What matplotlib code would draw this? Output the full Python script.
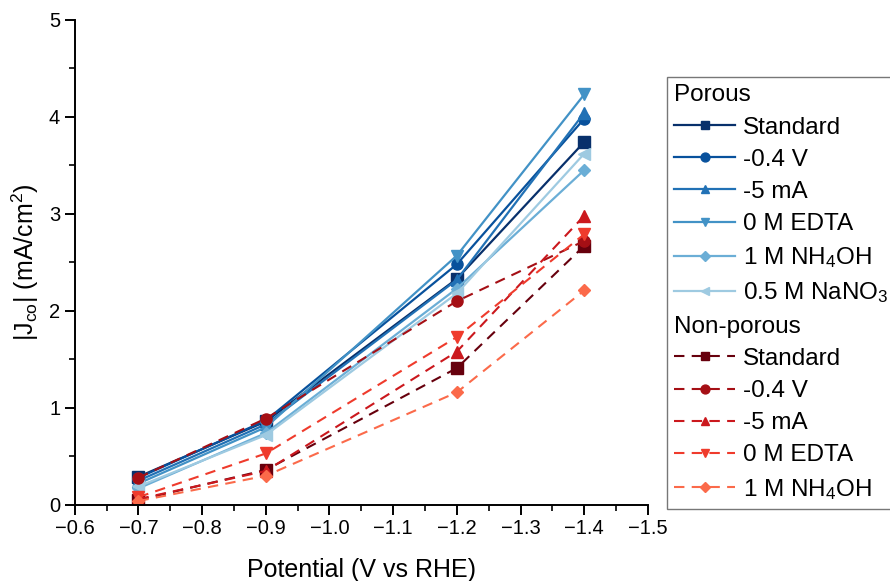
import matplotlib
matplotlib.use("Agg")
import matplotlib.pyplot as plt
from matplotlib.lines import Line2D
from matplotlib.ticker import MultipleLocator

plt.rcParams['font.family'] = ['Liberation Sans', 'DejaVu Sans']
plt.rcParams['mathtext.default'] = 'regular'

potential = [-0.7, -0.9, -1.2, -1.4]

porous_labels = ["Standard", "-0.4 V", "-5 mA", "0 M EDTA", "1 M NH$_4$OH", "0.5 M NaNO$_3$"]
porous_std = [0.29, 0.86, 2.33, 3.74]
porous_04v = [0.28, 0.87, 2.48, 3.98]
porous_5ma = [0.25, 0.83, 2.32, 4.04]
porous_edta = [0.22, 0.80, 2.57, 4.23]
porous_nh4oh = [0.17, 0.74, 2.23, 3.45]
porous_nano3 = [0.19, 0.72, 2.18, 3.62]

nonporous_labels = ["Standard", "-0.4 V", "-5 mA", "0 M EDTA", "1 M NH$_4$OH"]
nonporous_std = [0.05, 0.36, 1.41, 2.67]
nonporous_04v = [0.28, 0.89, 2.10, 2.72]
nonporous_5ma = [0.06, 0.35, 1.58, 2.98]
nonporous_edta = [0.08, 0.53, 1.73, 2.79]
nonporous_nh4oh = [0.04, 0.30, 1.16, 2.21]

blues = ['#08306b', '#08519c', '#2171b5', '#4292c6', '#6baed6', '#9ecae1']
reds = ['#67000d', '#a50f15', '#cb181d', '#ef3b2c', '#fb6a4a']
markers = ['s', 'o', '^', 'v', 'D', '<']

fig = plt.figure(figsize=(8.9, 5.81), dpi=100)
ax = fig.add_axes([0.084, 0.131, 0.644, 0.835])

porous = [porous_std, porous_04v, porous_5ma, porous_edta, porous_nh4oh, porous_nano3]
nonporous = [nonporous_std, nonporous_04v, nonporous_5ma, nonporous_edta, nonporous_nh4oh]

p_lines = []
for i, ys in enumerate(porous):
    ms = 6.5 if markers[i] == 'D' else 8
    l, = ax.plot(potential, ys, color=blues[i], marker=markers[i], markersize=ms,
                 lw=1.6, label=porous_labels[i])
    p_lines.append(l)

n_lines = []
for i, ys in enumerate(nonporous):
    ms = 6.5 if markers[i] == 'D' else 8
    l, = ax.plot(potential, ys, color=reds[i], marker=markers[i], markersize=ms,
                 lw=1.5, ls=(0, (5, 3.5)), label=nonporous_labels[i])
    n_lines.append(l)

ax.set_xlim(-0.6, -1.5)
ax.set_ylim(0, 5)
ax.xaxis.set_major_locator(MultipleLocator(0.1))
ax.xaxis.set_minor_locator(MultipleLocator(0.05))
ax.yaxis.set_major_locator(MultipleLocator(1))
ax.yaxis.set_minor_locator(MultipleLocator(0.5))
ax.xaxis.set_major_formatter(plt.FuncFormatter(lambda v, p: "\u2212%.1f" % abs(v) if v < 0 else "%.1f" % v))
ax.spines['top'].set_visible(False)
ax.spines['right'].set_visible(False)
for s in ['left', 'bottom']:
    ax.spines[s].set_linewidth(1.4)
ax.tick_params(which='major', direction='out', length=7, width=1.4, labelsize=14.5)
ax.tick_params(which='minor', direction='out', length=4, width=1.2)

ax.set_xlabel("Potential (V vs RHE)", fontsize=18, labelpad=14)
ax.set_ylabel("|J$_{co}$| (mA/cm$^2$)", fontsize=18, labelpad=6)

blank = Line2D([], [], linestyle='none')
handles = [blank] + p_lines + [blank] + n_lines
labels = ["Porous"] + porous_labels + ["Non-porous"] + nonporous_labels
leg = fig.legend(handles, labels, loc='upper left', bbox_to_anchor=(667 / 890, 1 - 77 / 581),
                 fontsize=17.5, handlelength=2.5, handletextpad=0.33, labelspacing=0.42,
                 borderpad=0.3, borderaxespad=0, markerscale=0.8,
                 frameon=True, fancybox=False)
leg.get_frame().set_edgecolor('#555555')
leg.get_frame().set_linewidth(1.0)

# headers: drop the empty handle so the text starts at the left edge
for vp in leg._legend_handle_box.get_children():
    for hp in vp.get_children():
        kids = hp.get_children()
        if len(kids) == 2 and kids[1].get_text() in ("Porous", "Non-porous"):
            kids.pop(0)

fig.savefig("out.png", dpi=100)
